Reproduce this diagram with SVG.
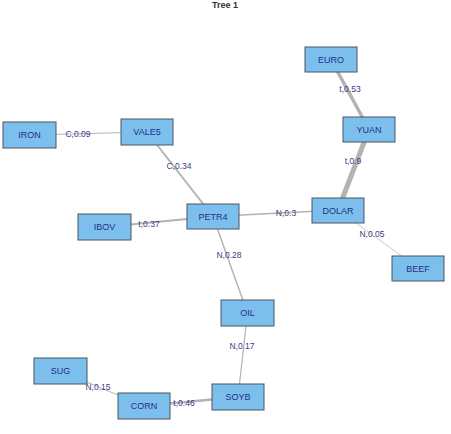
<svg xmlns="http://www.w3.org/2000/svg" width="451" height="434" viewBox="0 0 451 434">
<style>
.n rect{fill:#7cbfec;stroke:#4a5560;stroke-width:1}
.n text{font-family:"Liberation Sans",Arial,sans-serif;font-size:9px;fill:#23308a;text-anchor:middle;dominant-baseline:central}
.e line{stroke:#b3b3b3;stroke-linecap:butt}
.e text{font-family:"Liberation Sans",Arial,sans-serif;font-size:8.5px;fill:#3a3a85;text-anchor:middle;dominant-baseline:central}
.t{font-family:"Liberation Sans",Arial,sans-serif;font-size:9px;font-weight:bold;fill:#333;text-anchor:middle}
</style>
<rect width="451" height="434" fill="#fff"/>
<text class="t" x="225" y="8">Tree 1</text>
<g id="connectors" class="e">
<line x1="29.5" y1="135" x2="147" y2="132" stroke-width="1"/>
<line x1="147" y1="132" x2="213" y2="216.5" stroke-width="2"/>
<line x1="104.5" y1="227" x2="213" y2="216.5" stroke-width="2"/>
<line x1="213" y1="216.5" x2="338" y2="210" stroke-width="1.5"/>
<line x1="338" y1="210" x2="369" y2="129.5" stroke-width="5"/>
<line x1="369" y1="129.5" x2="331" y2="59.5" stroke-width="3.5"/>
<line x1="338" y1="210" x2="418" y2="268" stroke-width="0.7"/>
<line x1="213" y1="216.5" x2="247.5" y2="313" stroke-width="1.5"/>
<line x1="247.5" y1="313" x2="238" y2="397" stroke-width="1.2"/>
<line x1="238" y1="397" x2="144" y2="406" stroke-width="2.5"/>
<line x1="144" y1="406" x2="60.5" y2="371" stroke-width="1"/>
<text x="78" y="134">C,0.09</text>
<text x="179" y="166">C,0.34</text>
<text x="149" y="224">t,0.37</text>
<text x="286" y="213">N,0.3</text>
<text x="353" y="161">t,0.9</text>
<text x="350" y="89">t,0.53</text>
<text x="372" y="234">N,0.05</text>
<text x="229" y="255">N,0.28</text>
<text x="242" y="346">N,0.17</text>
<text x="184" y="403">t,0.46</text>
<text x="98" y="387">N,0.15</text>
</g>
<g id="EURO" class="n"><rect x="305" y="47" width="52" height="25"/><text x="331" y="59.5">EURO</text></g>
<g id="YUAN" class="n"><rect x="343" y="117" width="52" height="25"/><text x="369" y="129.5">YUAN</text></g>
<g id="DOLAR" class="n"><rect x="312" y="198" width="52" height="25"/><text x="338" y="210.5">DOLAR</text></g>
<g id="IRON" class="n"><rect x="3" y="122" width="53" height="26"/><text x="29.5" y="135">IRON</text></g>
<g id="VALE5" class="n"><rect x="121" y="119" width="52" height="26"/><text x="147" y="132">VALE5</text></g>
<g id="PETR4" class="n"><rect x="187" y="204" width="52" height="25"/><text x="213" y="216.5">PETR4</text></g>
<g id="IBOV" class="n"><rect x="78" y="214" width="53" height="26"/><text x="104.5" y="227">IBOV</text></g>
<g id="OIL" class="n"><rect x="221" y="300" width="53" height="26"/><text x="247.5" y="313">OIL</text></g>
<g id="SUG" class="n"><rect x="34" y="358" width="53" height="26"/><text x="60.5" y="371">SUG</text></g>
<g id="CORN" class="n"><rect x="118" y="393" width="52" height="26"/><text x="144" y="406">CORN</text></g>
<g id="SOYB" class="n"><rect x="212" y="384" width="52" height="26"/><text x="238" y="397">SOYB</text></g>
<g id="BEEF" class="n"><rect x="392" y="256" width="52" height="25"/><text x="418" y="268.5">BEEF</text></g>
</svg>
